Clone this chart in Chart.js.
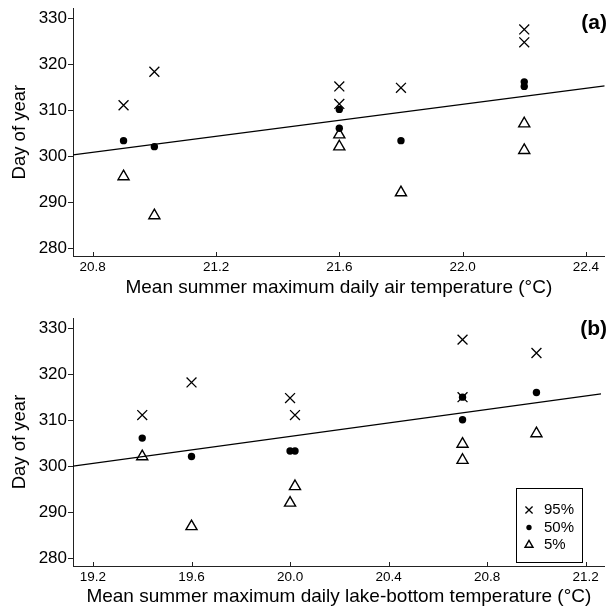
<!DOCTYPE html>
<html><head><meta charset="utf-8">
<script src="https://cdn.jsdelivr.net/npm/chart.js@4.4.1/dist/chart.umd.min.js"></script>
<style>
html,body{margin:0;padding:0;background:#fff;}
#wrap{position:relative;width:613px;height:608px;overflow:hidden;}
canvas{display:block;position:absolute;left:0;}
</style></head><body>
<div id="wrap">
<canvas id="ca" width="613" height="300" style="top:0;width:613px;height:300px"></canvas>
<canvas id="cb" width="613" height="308" style="top:300px;width:613px;height:308px"></canvas>
</div>
<script>
// ---------- data ----------
const seriesLabels = ['95%', '50%', '5%'];
const yTicks = [280, 290, 300, 310, 320, 330];
const yRange = [278.3, 332.2];

// Panel (a): air temperature
const airX = [20.9, 21.0, 21.6, 21.6, 21.8, 22.2, 22.2];
const airY95 = [311.1, 318.4, 315.2, 311.4, 314.9, 327.6, 324.8];
const airY50 = [303.4, 302.1, 310.2, 306.1, 303.4, 316.2, 315.2];
const airY5 = [295.6, 287.1, 304.7, 302.1, 292.1, 307.1, 301.3];
const airFitX = [20.736, 22.461];
const airFitY = [300.3, 315.3];
const airXTicks = [20.8, 21.2, 21.6, 22.0, 22.4];
const airXRange = [20.736, 22.461];
const airTitle = 'Mean summer maximum daily air temperature (°C)';

// Panel (b): lake-bottom temperature
const lakeX = [19.4, 19.6, 20.0, 20.02, 20.7, 20.7, 21.0];
const lakeY95 = [311.1, 318.2, 314.8, 311.1, 327.5, 315.0, 324.6];
const lakeY50 = [306.1, 302.1, 303.3, 303.3, 315.0, 310.1, 316.0];
const lakeY5 = [302.1, 286.9, 292.0, 295.6, 304.8, 301.3, 307.1];
const lakeFitX = [19.119, 21.262];
const lakeFitY = [300.0, 315.7];
const lakeXTicks = [19.2, 19.6, 20.0, 20.4, 20.8, 21.2];
const lakeXRange = [19.119, 21.277];
const lakeTitle = 'Mean summer maximum daily lake-bottom temperature (°C)';

// ---------- helpers ----------
const FONT = "'Liberation Sans', Arial, Helvetica, sans-serif";
const pts = (xs, ys) => xs.map((x, i) => ({x: x, y: ys[i]}));
const styles = [
  {pointStyle: 'crossRot', pointRadius: 7, pointBorderWidth: 1.3, pointBorderColor: '#000', pointBackgroundColor: '#000'},
  {pointStyle: 'circle', pointRadius: 3.7, pointBorderWidth: 0, pointBorderColor: '#000', pointBackgroundColor: '#000'},
  {pointStyle: 'triangle', pointRadius: 6.4, pointBorderWidth: 1.4, pointBorderColor: '#000', pointBackgroundColor: 'rgba(0,0,0,0)'}
];

const decorPlugin = {
  id: 'decor',
  afterDraw(chart, args, opts) {
    const ctx = chart.ctx;
    const area = chart.chartArea;
    const xs = chart.scales.x;
    // inward x ticks
    ctx.save();
    ctx.strokeStyle = '#222';
    ctx.lineWidth = 1;
    xs.ticks.forEach(t => {
      const px = Math.round(xs.getPixelForValue(t.value)) + 0.5;
      ctx.beginPath();
      ctx.moveTo(px, area.bottom);
      ctx.lineTo(px, area.bottom - 4);
      ctx.stroke();
    });
    // panel label
    ctx.fillStyle = '#000';
    ctx.font = 'bold 21px ' + FONT;
    ctx.textAlign = 'right';
    ctx.textBaseline = 'middle';
    ctx.fillText(opts.label, opts.labelX, opts.labelY);
    // legend
    if (opts.legend) {
      const L = opts.legend;
      ctx.strokeStyle = '#000';
      ctx.lineWidth = 1;
      ctx.strokeRect(L.x + 0.5, L.y + 0.5, L.w, L.h);
      ctx.font = '15px ' + FONT;
      ctx.textAlign = 'left';
      const ds = chart.data.datasets.filter(d => seriesLabels.includes(d.label));
      ds.forEach((d, i) => {
        const cy = L.y + L.firstRow + i * L.rowGap;
        ctx.save();
        ctx.strokeStyle = d.pointBorderColor;
        ctx.fillStyle = d.pointBackgroundColor;
        ctx.lineWidth = d.pointBorderWidth || 1;
        Chart.helpers.drawPoint(ctx, {pointStyle: d.pointStyle, radius: d.pointRadius * 0.72, rotation: 0, borderWidth: d.pointBorderWidth}, L.x + L.markX, cy);
        ctx.restore();
        ctx.fillStyle = '#000';
        ctx.fillText(d.label, L.x + L.textX, cy);
      });
    }
    ctx.restore();
  }
};

function makeChart(id, cfg) {
  const datasets = [
    Object.assign({label: seriesLabels[0], data: pts(cfg.x, cfg.y95)}, styles[0]),
    Object.assign({label: seriesLabels[1], data: pts(cfg.x, cfg.y50)}, styles[1]),
    Object.assign({label: seriesLabels[2], data: pts(cfg.x, cfg.y5)}, styles[2]),
    {type: 'line', label: 'fit', data: pts(cfg.fitX, cfg.fitY), borderColor: '#000', borderWidth: 1.2, pointRadius: 0, fill: false, tension: 0}
  ];
  return new Chart(document.getElementById(id), {
    type: 'scatter',
    data: {datasets: datasets},
    plugins: [decorPlugin],
    options: {
      responsive: false,
      animation: false,
      events: [],
      devicePixelRatio: 1,
      layout: {padding: {top: cfg.padTop, right: 3, bottom: 0, left: 0}},
      plugins: {
        legend: {display: false},
        tooltip: {enabled: false},
        decor: {label: cfg.label, labelX: 607, labelY: cfg.labelY, legend: cfg.legend}
      },
      scales: {
        x: {
          type: 'linear', min: cfg.xRange[0], max: cfg.xRange[1],
          afterBuildTicks: s => { s.ticks = cfg.xTicks.map(v => ({value: v})); },
          afterFit: s => { s.height = cfg.xHeight; s.paddingLeft = 0; s.paddingRight = 0; },
          ticks: {font: {family: FONT, size: 13.5}, color: '#000', padding: 3, maxRotation: 0, autoSkip: false,
                  callback: v => Number(v).toFixed(1)},
          grid: {display: false, drawTicks: false},
          border: {display: true, color: '#222', width: 1},
          title: {display: true, text: cfg.xTitle, color: '#000', font: {family: FONT, size: 19}, padding: {top: 0, bottom: cfg.titlePadB}}
        },
        y: {
          type: 'linear', min: yRange[0], max: yRange[1],
          afterBuildTicks: s => { s.ticks = yTicks.map(v => ({value: v})); },
          afterFit: s => { s.width = 73; s.paddingTop = 0; s.paddingBottom = 0; },
          ticks: {font: {family: FONT, size: 17, lineHeight: 0.8}, color: '#000', padding: 1},
          grid: {display: true, drawOnChartArea: false, drawTicks: true, tickLength: 5, color: '#222', lineWidth: 1},
          border: {display: true, color: '#222', width: 1},
          title: {display: true, text: 'Day of year', color: '#000', font: {family: FONT, size: 18.5}, padding: {top: 9, bottom: 0}}
        }
      }
    }
  });
}

makeChart('ca', {
  x: airX, y95: airY95, y50: airY50, y5: airY5, fitX: airFitX, fitY: airFitY,
  xTicks: airXTicks, xRange: airXRange, xTitle: airTitle,
  padTop: 8, xHeight: 44, titlePadB: 1, label: '(a)', labelY: 23, legend: null
});
makeChart('cb', {
  x: lakeX, y95: lakeY95, y50: lakeY50, y5: lakeY5, fitX: lakeFitX, fitY: lakeFitY,
  xTicks: lakeXTicks, xRange: lakeXRange, xTitle: lakeTitle,
  padTop: 18, xHeight: 42, titlePadB: 0, label: '(b)', labelY: 29,
  legend: {x: 516, y: 188, w: 66, h: 74, markX: 13, textX: 28, firstRow: 22, rowGap: 17.5}
});
</script>
</body></html>
